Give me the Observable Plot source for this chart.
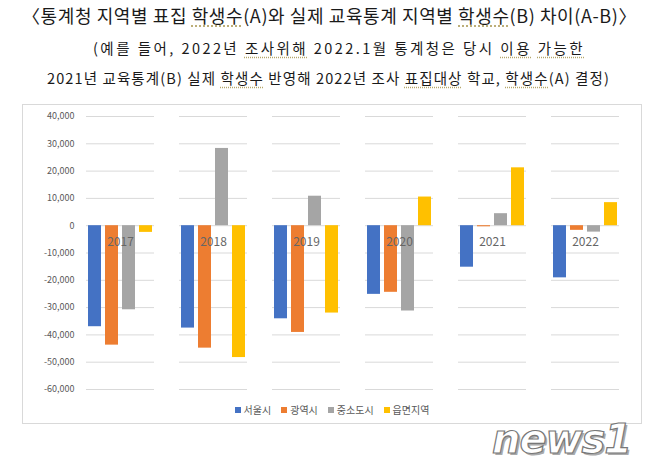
<!DOCTYPE html>
<html><head><meta charset="utf-8">
<script src="https://cdn.jsdelivr.net/npm/d3@7"></script>
<script src="https://cdn.jsdelivr.net/npm/@observablehq/plot@0.6"></script>
<style>
body{margin:0;background:#fff;width:658px;height:471px;overflow:hidden;position:relative;font-family:"Noto Sans CJK KR","Noto Sans",sans-serif;}
.t{position:absolute;white-space:nowrap;color:#1a1a1a;}
.u{text-decoration:underline dotted #b5a66a;text-underline-offset:3px;}
#chart{position:absolute;left:22px;top:104px;width:618px;height:318px;border:1px solid #d9d9d9;}
#legend{position:absolute;left:0;top:297px;width:100%;text-align:center;font-size:10px;color:#595959;}
#legend span{margin:0 5px;}
#legend i{display:inline-block;width:6px;height:6px;margin-right:3px;vertical-align:1px;}
#wm{position:absolute;left:492px;top:416px;font:italic bold 40px "DejaVu Sans",sans-serif;color:#fff;-webkit-text-stroke:1.2px #777;text-shadow:2px 2px 0 #aaa;letter-spacing:-1px;}
</style></head><body>
<div class="t" id="t1" data-w="615" style="left:22px;top:2px;font-size:18px;">〈통계청 지역별 표집 <span class="u">학생수</span>(A)와 실제 교육통계 지역별 <span class="u">학생수</span>(B) 차이(A-B)〉</div>
<div class="t" id="t2" data-w="492" style="left:93px;top:37px;font-size:14.5px;">(예를 들어, 2022년 <span class="u">조사위해</span> 2022.1월 통계청은 당시 <span class="u">이용</span> <span class="u">가능한</span></div>
<div class="t" id="t3" data-w="563" style="left:47px;top:67px;font-size:14.5px;">2021년 교육통계(B) 실제 <span class="u">학생수</span> 반영해 2022년 조사 <span class="u">표집대상</span> 학교, <span class="u">학생수</span>(A) 결정)</div>
<div id="chart"></div>
<div id="wm">news1</div>
<script>
const years = ["2017","2018","2019","2020","2021","2022"];
const regions = ["서울시","광역시","중소도시","읍면지역"];
const colors = ["#4472C4","#ED7D31","#A5A5A5","#FFC000"];
const seoul   = [-37000,-37500,-34100,-25150,-15200,-19100];
const metro   = [-43750,-44850,-39100,-24400,-400,-1700];
const smallCity = [-30800,28300,10800,-31250,4400,-2350];
const rural   = [-2450,-48300,-32000,10500,21200,8450];
const yTicks = [40000,30000,20000,10000,0,-10000,-20000,-30000,-40000,-50000,-60000];

const series = [seoul, metro, smallCity, rural];
const data = [];
years.forEach((y,i)=>regions.forEach((r,j)=>data.push({year:y, region:r, value:series[j][i]})));

const plot = Plot.plot({
  width: 618, height: 292,
  marginLeft: 48, marginRight: 8, marginTop: 11, marginBottom: 8,
  style:{fontFamily:'"Noto Sans CJK KR","Noto Sans",sans-serif', background:"transparent"},
  fx:{domain: years, paddingInner:0.274, paddingOuter:0.137, axis:null, label:null},
  x:{domain: regions, paddingInner:0.235, paddingOuter:0.1175, axis:null, label:null},
  y:{domain:[-60000,40000], label:null},
  color:{domain: regions, range: colors},
  marks:[
    Plot.ruleY(yTicks, {stroke:"#d9d9d9", strokeWidth:1}),
    Plot.axisY({ticks: yTicks, tickSize:0, tickPadding:12, tickFormat:d=>d.toLocaleString("en-US"), fill:"#595959", fontSize:9, facetAnchor:"left", anchor:"left"}),
    Plot.barY(data, {fx:"year", x:"region", y:"value", fill:"region"}),
    Plot.text(years, {fx:d=>d, y:0, text:d=>d, dy:16, fill:"#666", fontSize:12})
  ]
});
const chart = document.getElementById("chart");
chart.appendChild(plot);
const lg = document.createElement("div");
lg.id = "legend";
lg.innerHTML = regions.map((r,i)=>`<span><i style="background:${colors[i]}"></i>${r}</span>`).join("");
chart.appendChild(lg);

// stretch title lines to the widths seen in the reference
for (const id of ["t1","t2","t3"]) {
  const el = document.getElementById(id);
  const target = +el.dataset.w;
  const n = el.textContent.length;
  const w = el.getBoundingClientRect().width;
  el.style.letterSpacing = ((target - w) / n) + "px";
}
</script>
</body></html>
